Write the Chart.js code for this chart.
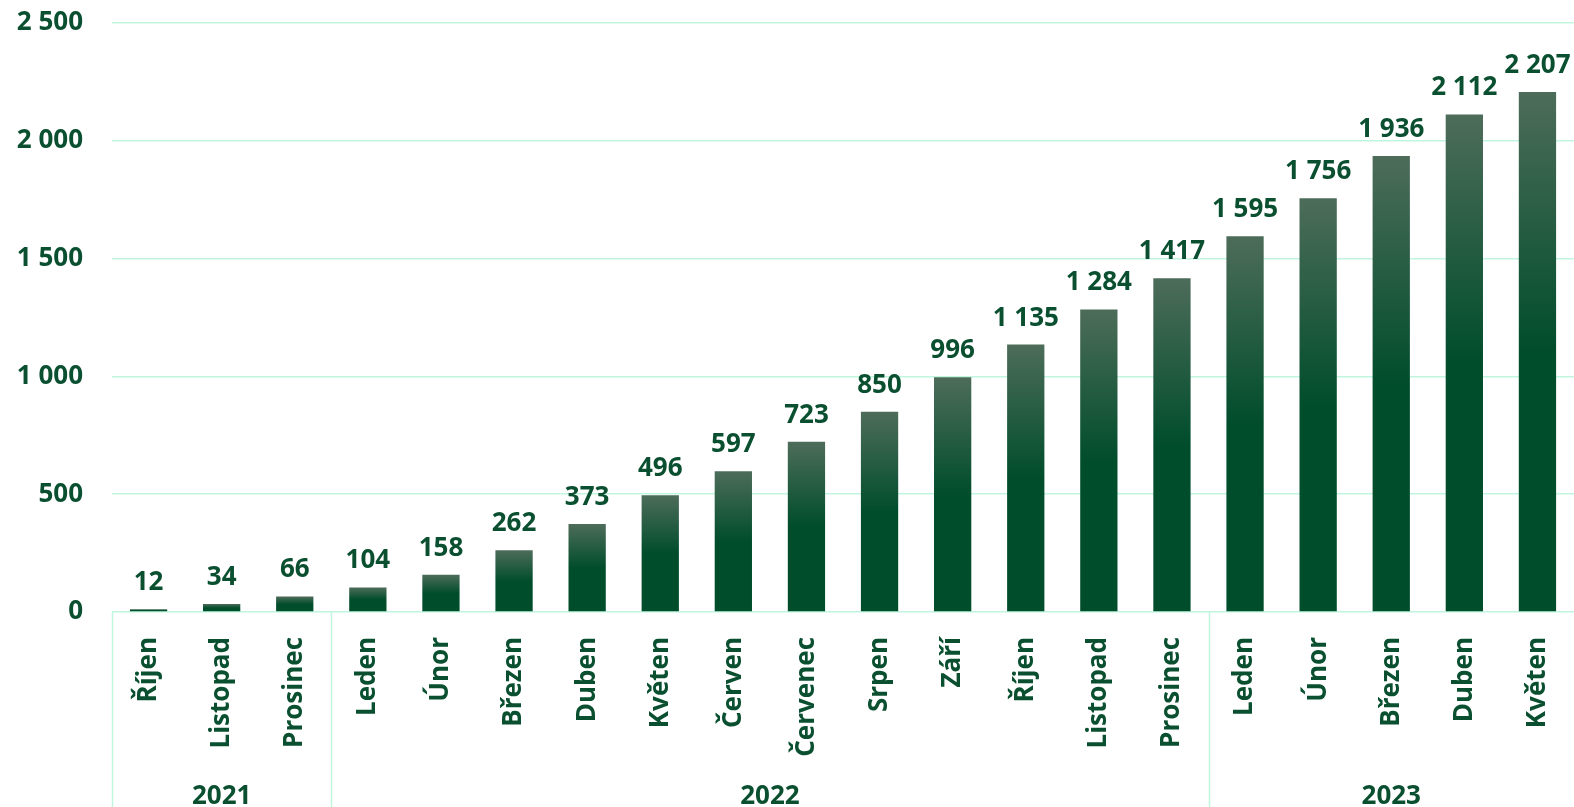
<!DOCTYPE html>
<html>
<head>
<meta charset="utf-8">
<script src="https://cdn.jsdelivr.net/npm/chart.js@4/dist/chart.umd.min.js"></script>
<style>
    html, body { margin: 0; padding: 0; background: #fff; }
    #wrap { width: 1574px; height: 807px; position: relative; }
</style>
</head>
<body>
<div id="wrap"><canvas id="growthChart"></canvas></div>
<script>
// data
const months = ['Říjen', 'Listopad', 'Prosinec', 'Leden', 'Únor', 'Březen', 'Duben', 'Květen', 'Červen', 'Červenec',
    'Srpen', 'Září', 'Říjen', 'Listopad', 'Prosinec', 'Leden', 'Únor', 'Březen', 'Duben', 'Květen'];
const values = [12, 34, 66, 104, 158, 262, 373, 496, 597, 723, 850, 996, 1135, 1284, 1417, 1595, 1756, 1936, 2112, 2207];
const years = ['2021', '2022', '2023'];
const yearSizes = [3, 12, 5];
const yTicks = [0, 500, 1000, 1500, 2000, 2500];

const FONT = "'Open Sans', 'DejaVu Sans', sans-serif";
const TEXT = '#0a5030';
const GRID = '#c0f6dd';

function fmt(v) {
    return String(v).replace(/\B(?=(\d{3})+(?!\d))/g, ' ');
}

// value labels above the bars
const valueLabels = {
    id: 'valueLabels',
    afterDatasetsDraw(chart) {
        const ctx = chart.ctx;
        const meta = chart.getDatasetMeta(0);
        ctx.save();
        ctx.font = 'bold 26px ' + FONT;
        ctx.fillStyle = TEXT;
        ctx.textAlign = 'center';
        ctx.textBaseline = 'alphabetic';
        meta.data.forEach((bar, i) => {
            ctx.fillText(fmt(values[i]), bar.x, bar.y - 19);
        });
        ctx.restore();
    }
};

// year groups under the month labels
const yearGroups = {
    id: 'yearGroups',
    afterDraw(chart) {
        const ctx = chart.ctx;
        const x = chart.scales.x;
        const area = chart.chartArea;
        const half = (x.getPixelForValue(1) - x.getPixelForValue(0)) / 2;
        ctx.save();
        ctx.strokeStyle = GRID;
        ctx.lineWidth = 1.5;
        ctx.font = 'bold 26px ' + FONT;
        ctx.fillStyle = TEXT;
        ctx.textAlign = 'center';
        let start = 0;
        years.forEach((yr, g) => {
            const left = x.getPixelForValue(start) - half;
            const right = x.getPixelForValue(start + yearSizes[g] - 1) + half;
            ctx.beginPath();
            ctx.moveTo(Math.round(left) + 0.5, area.bottom);
            ctx.lineTo(Math.round(left) + 0.5, chart.height);
            ctx.stroke();
            ctx.fillText(yr, (left + right) / 2, 804);
            start += yearSizes[g];
        });
        ctx.restore();
    }
};

const c = document.getElementById('growthChart').getContext('2d');
new Chart(c, {
    type: 'bar',
    data: {
        labels: months,
        datasets: [{
            data: values,
            backgroundColor: context => {
                const chart = context.chart;
                if (!chart.chartArea) return '#004d2c';
                const y = chart.scales.y;
                const top = y.getPixelForValue(context.raw);
                const base = y.getPixelForValue(0);
                const g = chart.ctx.createLinearGradient(0, top, 0, base);
                g.addColorStop(0, '#4d6c5a');
                g.addColorStop(0.5, '#004d2c');
                g.addColorStop(1, '#004d2c');
                return g;
            },
            borderWidth: 0,
            categoryPercentage: 1,
            barPercentage: 0.51
        }]
    },
    options: {
        responsive: true,
        maintainAspectRatio: false,
        animation: false,
        layout: { padding: { top: 23, right: 0, left: 0, bottom: 0 } },
        plugins: {
            legend: { display: false },
            tooltip: { enabled: false }
        },
        scales: {
            x: {
                grid: { display: false },
                border: { display: false },
                ticks: {
                    autoSkip: false,
                    maxRotation: 90,
                    minRotation: 90,
                    padding: 17,
                    color: TEXT,
                    font: { family: FONT, size: 26, weight: 'bold' }
                },
                afterFit: scale => {
                    scale.height = 195;
                    scale.paddingLeft = 0;
                    scale.paddingRight = 0;
                }
            },
            y: {
                min: 0,
                max: 2500,
                afterBuildTicks: scale => { scale.ticks = yTicks.map(v => ({ value: v })); },
                grid: { color: GRID, lineWidth: 1.5, drawTicks: false },
                border: { display: false },
                ticks: {
                    padding: 29,
                    color: TEXT,
                    font: { family: FONT, size: 26, weight: 'bold' },
                    callback: v => fmt(v)
                },
                afterFit: scale => {
                    scale.width = 112;
                    scale.paddingTop = 0;
                    scale.paddingBottom = 0;
                }
            }
        }
    },
    plugins: [valueLabels, yearGroups]
});
</script>
</body>
</html>
